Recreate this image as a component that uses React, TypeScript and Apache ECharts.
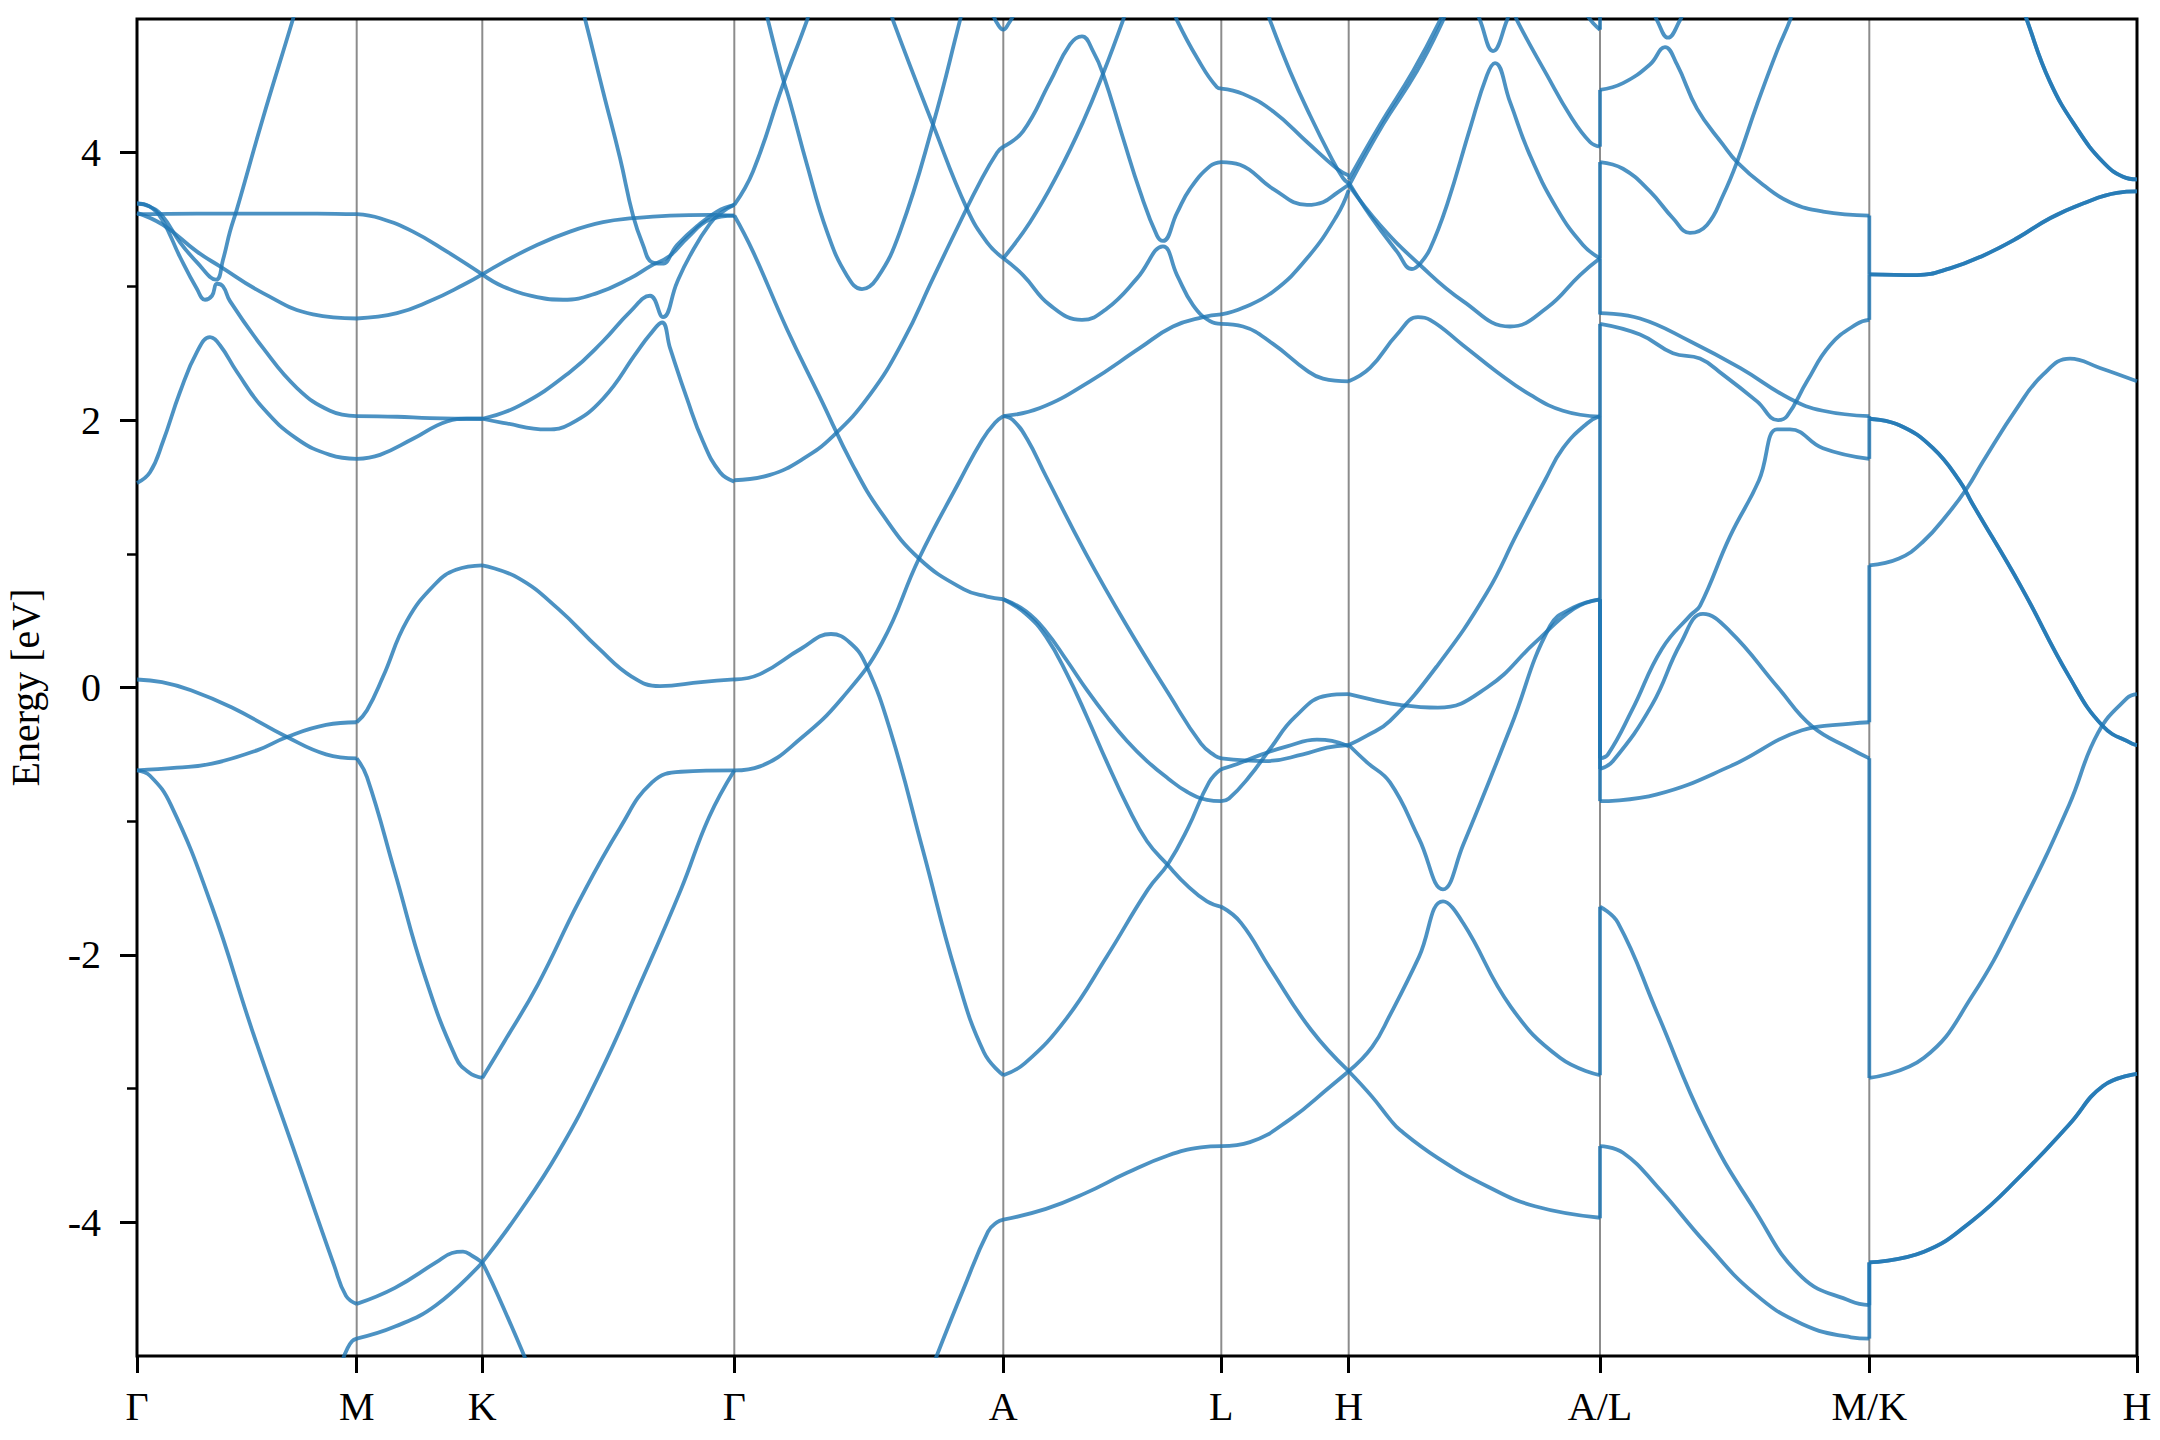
import React, { useEffect, useRef } from "react";
import * as echarts from "echarts";

type Pt = [number, number];

// high-symmetry path (k-distance units) and labels
const K_TICKS = [0, 219.7, 345.3, 597.3, 866.3, 1084.3, 1211.7, 1463, 1732.3, 2000];
const K_LABELS = ["Γ", "M", "K", "Γ", "A", "L", "H", "A/L", "M/K", "H"];
const Y_MAJOR = [-4, -2, 0, 2, 4];
const Y_MINOR = [-3, -1, 1, 3];

// Γ – M
const BANDS_GM: Pt[][] = [
  [[0, 3.54], [60, 3.545], [120, 3.545], [180, 3.545], [219.7, 3.54]],
  [[0, 3.62], [12, 3.6], [25, 3.53], [43, 3.33], [60, 3.18], [79, 3.05], [86, 3.2], [93, 3.41], [100, 3.58], [126, 4.26], [156, 5.0], [158, 5.06]],
  [[0, 3.62], [12, 3.6], [25, 3.5], [43, 3.22], [60, 2.98], [68, 2.9], [75, 2.93], [80, 3.02], [86, 3.0], [93, 2.89], [126, 2.54], [160, 2.24], [193, 2.07], [219.7, 2.03]],
  [[0, 3.55], [26, 3.46], [60, 3.26], [83, 3.15], [126, 2.95], [176, 2.79], [219.7, 2.76]],
  [[0, 1.53], [13, 1.61], [26, 1.84], [43, 2.21], [60, 2.51], [73, 2.62], [83, 2.56], [100, 2.36], [126, 2.09], [160, 1.86], [193, 1.74], [219.7, 1.71]],
  [[0, 0.06], [25, 0.04], [54, -0.02], [95, -0.15], [150, -0.37], [189, -0.5], [219.7, -0.53]],
  [[0, -0.62], [40, -0.6], [75, -0.57], [120, -0.47], [150, -0.37], [189, -0.28], [219.7, -0.26]],
  [[0, -0.62], [13, -0.66], [34, -0.88], [75, -1.64], [115, -2.56], [156, -3.44], [197, -4.32], [209, -4.55], [219.7, -4.61]],
  [[204, -5.06], [210, -4.95], [215, -4.89], [219.7, -4.87]],
];

// M – K
const BANDS_MK: Pt[][] = [
  [[219.7, 3.54], [243, 3.51], [276, 3.41], [310, 3.26], [345.3, 3.09]],
  [[219.7, 2.76], [260, 2.8], [293, 2.89], [326, 3.01], [345.3, 3.09]],
  [[219.7, 2.03], [260, 2.025], [293, 2.015], [345.3, 2.01]],
  [[219.7, 1.71], [243, 1.74], [276, 1.86], [310, 1.99], [330, 2.01], [345.3, 2.01]],
  [[219.7, -0.26], [230, -0.17], [246, 0.08], [270, 0.5], [299, 0.78], [319, 0.88], [345.3, 0.914]],
  [[219.7, -0.53], [230, -0.67], [258, -1.385], [287, -2.14], [319, -2.77], [332, -2.88], [345.3, -2.92]],
  [[219.7, -4.61], [258, -4.49], [299, -4.3], [315, -4.23], [326, -4.22], [335, -4.25], [345.3, -4.3]],
  [[219.7, -4.87], [258, -4.78], [299, -4.62], [345.3, -4.3]],
];

// K – Γ
const BANDS_KG: Pt[][] = [
  [[345.3, 3.09], [366, 3.18], [400, 3.31], [433, 3.41], [466, 3.48], [496, 3.51], [533, 3.53], [573, 3.535], [597.3, 3.53]],
  [[345.3, 3.09], [366, 3.0], [400, 2.92], [426, 2.9], [460, 2.95], [493, 3.06], [513, 3.15], [533, 3.23], [550, 3.36], [573, 3.5], [597.3, 3.53]],
  [[444, 5.1], [448, 5.0], [466, 4.46], [483, 3.96], [496, 3.53], [506, 3.31], [515, 3.18], [525, 3.17], [540, 3.31], [560, 3.45], [580, 3.56], [597.3, 3.61]],
  [[345.3, 2.01], [383, 2.11], [433, 2.36], [466, 2.59], [493, 2.81], [513, 2.93], [526, 2.77], [540, 3.03], [553, 3.23], [573, 3.47], [586, 3.56], [597.3, 3.61]],
  [[345.3, 2.01], [366, 1.98], [410, 1.93], [433, 1.97], [466, 2.16], [500, 2.51], [513, 2.64], [525, 2.73], [533, 2.54], [550, 2.16], [566, 1.84], [583, 1.61], [597.3, 1.54]],
  [[345.3, 0.914], [381, 0.82], [421, 0.59], [462, 0.29], [495, 0.08], [523, 0.01], [564, 0.04], [597.3, 0.06]],
  [[345.3, -2.92], [368, -2.64], [401, -2.22], [442, -1.6], [483, -1.05], [515, -0.71], [544, -0.63], [597.3, -0.62]],
  [[345.3, -4.3], [381, -3.94], [421, -3.48], [462, -2.9], [503, -2.22], [544, -1.51], [572, -0.97], [597.3, -0.62]],
  [[345.3, -4.3], [360, -4.53], [389, -5.03]],
];

// Γ – A
const BANDS_GA: Pt[][] = [
  [[597.3, 3.61], [616, 3.86], [646, 4.51], [670, 4.99], [672, 5.05]],
  [[628, 5.1], [631, 4.99], [645, 4.58], [653, 4.38], [670, 3.91], [690, 3.41], [710, 3.08], [725, 2.98], [740, 3.06], [763, 3.41], [796, 4.21], [823, 4.99], [826, 5.08]],
  [[754, 5.06], [756, 4.99], [796, 4.21], [830, 3.58], [850, 3.33], [866.3, 3.21]],
  [[597.3, 3.53], [616, 3.26], [650, 2.68], [683, 2.17], [716, 1.66], [745, 1.3], [782, 0.965], [827, 0.734], [850, 0.68], [866.3, 0.66]],
  [[597.3, 1.55], [633, 1.59], [666, 1.71], [696, 1.88], [733, 2.19], [766, 2.59], [796, 3.06], [823, 3.48], [843, 3.78], [860, 4.0], [866.3, 4.045]],
  [[855, 5.05], [860, 4.97], [866.3, 4.92], [872, 4.97], [878, 5.05]],
  [[597.3, -0.62], [623, -0.59], [664, -0.38], [705, -0.08], [745, 0.335], [782, 0.965], [823, 1.55], [845, 1.85], [858, 1.98], [866.3, 2.03]],
  [[597.3, 0.06], [623, 0.1], [664, 0.29], [694, 0.4], [713, 0.335], [729, 0.17], [754, -0.34], [786, -1.22], [819, -2.14], [847, -2.73], [866.3, -2.9]],
  [[797, -5.05], [827, -4.49], [851, -4.07], [860, -4.0], [866.3, -3.98]],
];

// A – L
const BANDS_AL: Pt[][] = [
  [[866.3, 4.045], [886, 4.16], [913, 4.53], [933, 4.81], [945, 4.87], [956, 4.76], [966, 4.59], [986, 4.11], [1003, 3.71], [1020, 3.38], [1026, 3.34], [1040, 3.55], [1053, 3.73], [1073, 3.9], [1084.3, 3.93]],
  [[866.3, 3.21], [893, 3.48], [920, 3.83], [946, 4.23], [966, 4.59], [986, 4.99], [988, 5.05]],
  [[866.3, 3.21], [886, 3.085], [913, 2.86], [945, 2.75], [970, 2.835], [1000, 3.06], [1026, 3.3], [1040, 3.085], [1056, 2.86], [1073, 2.74], [1084.3, 2.72]],
  [[866.3, 2.03], [903, 2.09], [953, 2.29], [1003, 2.54], [1036, 2.7], [1066, 2.77], [1084.3, 2.79]],
  [[1038, 5.05], [1040, 4.99], [1060, 4.71], [1080, 4.49], [1084.3, 4.48]],
  [[866.3, 0.66], [889, 0.57], [909, 0.42], [930, 0.2], [950, -0.02], [970, -0.22], [990, -0.4], [1010, -0.55], [1031, -0.68], [1050, -0.78], [1070, -0.84], [1084.3, -0.85]],
  [[866.3, 0.66], [889, 0.55], [909, 0.38], [930, 0.1], [950, -0.22], [970, -0.56], [990, -0.88], [1010, -1.15], [1031, -1.33], [1050, -1.48], [1070, -1.6], [1084.3, -1.64]],
  [[866.3, 2.03], [876, 2.0], [890, 1.86], [909, 1.58], [949, 1.0], [990, 0.46], [1031, -0.04], [1064, -0.42], [1078, -0.51], [1084.3, -0.53]],
  [[866.3, -2.9], [888, -2.81], [929, -2.48], [970, -2.01], [1011, -1.51], [1031, -1.32], [1051, -1.05], [1072, -0.71], [1084.3, -0.61]],
  [[866.3, -3.98], [909, -3.9], [949, -3.78], [990, -3.63], [1031, -3.5], [1064, -3.44], [1084.3, -3.43]],
];

// L – H
const BANDS_LH: Pt[][] = [
  [[1084.3, 4.48], [1106, 4.44], [1136, 4.31], [1170, 4.08], [1200, 3.88], [1211.7, 3.83]],
  [[1131, 5.05], [1133, 4.99], [1153, 4.61], [1173, 4.28], [1193, 3.98], [1206, 3.81], [1211.7, 3.77]],
  [[1084.3, 3.93], [1103, 3.91], [1136, 3.73], [1170, 3.61], [1186, 3.63], [1200, 3.7], [1211.7, 3.76]],
  [[1084.3, 2.79], [1106, 2.84], [1136, 2.96], [1170, 3.21], [1200, 3.53], [1211.7, 3.72]],
  [[1084.3, 2.72], [1106, 2.7], [1136, 2.57], [1170, 2.37], [1186, 2.31], [1211.7, 2.29]],
  [[1084.3, -0.53], [1129, -0.55], [1166, -0.5], [1190, -0.45], [1211.7, -0.43]],
  [[1084.3, -0.61], [1101, -0.57], [1125, -0.5], [1150, -0.44], [1180, -0.39], [1195, -0.4], [1211.7, -0.44]],
  [[1084.3, -0.85], [1092, -0.83], [1112, -0.67], [1133, -0.46], [1158, -0.22], [1190, -0.06], [1211.7, -0.05]],
  [[1084.3, -1.64], [1104, -1.76], [1133, -2.1], [1174, -2.56], [1211.7, -2.87]],
  [[1084.3, -3.43], [1113, -3.4], [1153, -3.23], [1194, -2.98], [1211.7, -2.87]],
];

// H – A
const BANDS_HA: Pt[][] = [
  [[1211.7, 3.8], [1243, 4.21], [1276, 4.61], [1303, 4.99], [1305, 5.05]],
  [[1211.7, 3.75], [1246, 4.21], [1280, 4.61], [1306, 4.99], [1308, 5.05]],
  [[1211.7, 3.78], [1233, 3.53], [1260, 3.26], [1275, 3.13], [1283, 3.17], [1293, 3.28], [1310, 3.61], [1333, 4.18], [1350, 4.58], [1358, 4.67], [1373, 4.38], [1393, 3.98], [1420, 3.58], [1446, 3.31], [1463, 3.21]],
  [[1211.7, 3.76], [1243, 3.46], [1283, 3.16], [1326, 2.89], [1373, 2.7], [1410, 2.84], [1443, 3.085], [1463, 3.21]],
  [[1340, 5.05], [1343, 4.99], [1356, 4.76], [1370, 4.99], [1372, 5.05]],
  [[1378, 5.05], [1380, 4.99], [1410, 4.58], [1433, 4.28], [1453, 4.08], [1463, 4.045]],
  [[1450, 5.03], [1456, 4.97], [1463, 4.92]],
  [[1211.7, 2.29], [1233, 2.39], [1260, 2.64], [1281, 2.77], [1293, 2.75], [1326, 2.56], [1360, 2.36], [1393, 2.19], [1426, 2.07], [1463, 2.025]],
  [[1211.7, -0.43], [1230, -0.36], [1253, -0.25], [1301, 0.17], [1350, 0.71], [1380, 1.15], [1408, 1.55], [1426, 1.79], [1450, 1.975], [1463, 2.03]],
  [[1211.7, -0.05], [1235, -0.09], [1263, -0.13], [1301, -0.15], [1350, 0.0], [1398, 0.335], [1437, 0.59], [1463, 0.66]],
  [[1211.7, -0.43], [1230, -0.56], [1253, -0.71], [1282, -1.13], [1306, -1.51], [1326, -1.18], [1374, -0.29], [1413, 0.46], [1437, 0.6], [1463, 0.66]],
  [[1211.7, -2.87], [1235, -2.69], [1253, -2.45], [1282, -2.015], [1306, -1.6], [1326, -1.76], [1374, -2.39], [1423, -2.77], [1463, -2.9]],
  [[1211.7, -2.87], [1235, -3.06], [1253, -3.23], [1263, -3.31], [1301, -3.52], [1350, -3.73], [1398, -3.88], [1463, -3.966]],
];

// L – M (after the A|L break)
const BANDS_LM: Pt[][] = [
  [[1463, 4.47], [1486, 4.52], [1513, 4.66], [1528, 4.79], [1540, 4.66], [1560, 4.33], [1586, 4.06], [1600, 3.93], [1626, 3.76], [1653, 3.63], [1686, 3.56], [1732.3, 3.53]],
  [[1517, 5.05], [1520, 4.99], [1531, 4.86], [1543, 4.99], [1546, 5.05]],
  [[1463, 3.93], [1486, 3.88], [1513, 3.71], [1536, 3.51], [1553, 3.4], [1570, 3.46], [1586, 3.68], [1600, 3.93], [1620, 4.36], [1640, 4.76], [1653, 4.99], [1655, 5.05]],
  [[1463, 2.8], [1503, 2.76], [1553, 2.59], [1603, 2.39], [1653, 2.16], [1686, 2.07], [1732.3, 2.03]],
  [[1463, 2.72], [1503, 2.64], [1536, 2.5], [1563, 2.46], [1586, 2.34], [1620, 2.14], [1641, 2.0], [1650, 2.03], [1670, 2.29], [1693, 2.56], [1720, 2.72], [1732.3, 2.75]],
  [[1463, -0.53], [1471, -0.5], [1495, -0.17], [1525, 0.29], [1554, 0.545], [1563, 0.61], [1593, 1.13], [1622, 1.55], [1640, 1.93], [1653, 1.93], [1686, 1.79], [1732.3, 1.71]],
  [[1463, -0.61], [1476, -0.55], [1515, -0.13], [1544, 0.335], [1566, 0.55], [1593, 0.42], [1641, 0.0], [1675, -0.29], [1714, -0.46], [1732.3, -0.53]],
  [[1463, -0.85], [1520, -0.8], [1593, -0.59], [1665, -0.32], [1714, -0.27], [1732.3, -0.26]],
  [[1463, -1.64], [1481, -1.76], [1520, -2.43], [1568, -3.27], [1617, -3.9], [1665, -4.41], [1714, -4.59], [1732.3, -4.62]],
  [[1463, -3.43], [1486, -3.48], [1520, -3.73], [1568, -4.15], [1617, -4.53], [1665, -4.76], [1714, -4.86], [1732.3, -4.87]],
];

// K – H (after the M|K break)
const BANDS_KH: Pt[][] = [
  [[1732.3, 3.09], [1780, 3.085], [1813, 3.135], [1846, 3.23], [1880, 3.36], [1913, 3.51], [1946, 3.62], [1980, 3.7], [2000, 3.71]],
  [[1888, 5.05], [1890, 4.99], [1913, 4.53], [1940, 4.18], [1966, 3.93], [1986, 3.82], [2000, 3.8]],
  [[1732.3, 2.01], [1763, 1.96], [1796, 1.79], [1823, 1.54], [1835, 1.38], [1884, 0.755], [1932, 0.083], [1966, -0.29], [1995, -0.42], [2000, -0.43]],
  [[1732.3, 0.914], [1762, 0.965], [1786, 1.09], [1811, 1.3], [1830, 1.49], [1846, 1.69], [1880, 2.09], [1906, 2.34], [1933, 2.46], [1963, 2.39], [2000, 2.29]],
  [[1732.3, -2.92], [1787, -2.77], [1835, -2.31], [1884, -1.64], [1932, -0.88], [1961, -0.34], [1990, -0.08], [2000, -0.05]],
  [[1732.3, -4.3], [1787, -4.22], [1835, -3.99], [1884, -3.65], [1932, -3.27], [1966, -2.98], [2000, -2.89]],
];
const DOUBLE_KH = [0, 1, 2, 5];

// vertical jumps at the path breaks: [energy before, energy after]
const JUMP_AL: Pt[] = [[-3.97, -3.43], [-2.9, -1.64], [0.66, -0.85], [0.66, -0.61], [2.03, -0.53], [2.03, 2.72], [3.21, 2.79], [3.21, 3.93], [4.045, 4.47], [4.92, 5.3]];
const JUMP_MK: Pt[] = [[-4.87, -4.3], [-4.62, -4.3], [-0.53, -2.92], [-0.26, 0.914], [1.71, 2.01], [2.03, 2.01], [2.75, 3.09], [3.53, 3.09]];

const BAND_COLOR = "rgba(31,119,180,0.8)";
const BAND_WIDTH = 3.8;
const FONT = "Liberation Serif";

export default function App() {
  const ref = useRef<HTMLDivElement>(null);
  useEffect(() => {
    if (!ref.current) return;
    const chart = echarts.init(ref.current, undefined, { renderer: "svg" });
    const series: any[] = [];
    K_TICKS.slice(1, -1).forEach((k) => {
      series.push({
        type: "line",
        data: [[k, -5], [k, 5]],
        showSymbol: false,
        silent: true,
        z: 1,
        lineStyle: { color: "rgba(0,0,0,0.45)", width: 2 },
      });
    });
    const bandSeries = (curve: Pt[]) => ({
      type: "line",
      data: curve,
      showSymbol: false,
      silent: true,
      smooth: 0.45,
      z: 3,
      lineStyle: { color: BAND_COLOR, width: BAND_WIDTH, join: "round", cap: "butt" },
    });
    const groups = [BANDS_GM, BANDS_MK, BANDS_KG, BANDS_GA, BANDS_AL, BANDS_LH, BANDS_HA, BANDS_LM, BANDS_KH];
    groups.forEach((g) => g.forEach((curve) => series.push(bandSeries(curve))));
    // degenerate bands in K–H drawn twice (darker)
    DOUBLE_KH.forEach((i) => series.push(bandSeries(BANDS_KH[i])));
    const addJumps = (k: number, jumps: Pt[]) =>
      jumps.forEach(([a, b]) =>
        series.push({
          type: "line",
          data: [[k, a], [k, b]],
          showSymbol: false,
          silent: true,
          z: 3,
          lineStyle: { color: BAND_COLOR, width: BAND_WIDTH },
        })
      );
    addJumps(K_TICKS[7], JUMP_AL);
    addJumps(K_TICKS[8], JUMP_MK);

    const labelFor = (v: number) => {
      let best = 0;
      K_TICKS.forEach((t, i) => {
        if (Math.abs(t - v) < Math.abs(K_TICKS[best] - v)) best = i;
      });
      return K_LABELS[best];
    };

    chart.setOption({
      animation: false,
      backgroundColor: "#fff",
      grid: {
        left: 137,
        right: 23,
        top: 19,
        bottom: 84,
        show: true,
        borderColor: "#000",
        borderWidth: 3,
        backgroundColor: "transparent",
        containLabel: false,
        outerBoundsMode: "none",
      },
      xAxis: {
        type: "value",
        min: 0,
        max: 2000,
        position: "bottom",
        splitLine: { show: false },
        axisLine: { show: false, onZero: false },
        axisTick: { show: true, customValues: K_TICKS, length: 17, lineStyle: { color: "#000", width: 3 } },
        axisLabel: {
          customValues: K_TICKS,
          formatter: (v: number) => labelFor(v),
          fontFamily: FONT,
          fontSize: 40,
          color: "#000",
          margin: 30,
          showMinLabel: true,
          showMaxLabel: true,
        },
      },
      yAxis: [
        {
          type: "value",
          min: -5,
          max: 5,
          position: "left",
          splitLine: { show: false },
          axisLine: { show: false, onZero: false },
          axisTick: { show: true, customValues: Y_MAJOR, length: 17, lineStyle: { color: "#000", width: 3 } },
          axisLabel: {
            customValues: Y_MAJOR,
            formatter: (v: number) => String(v),
            fontFamily: FONT,
            fontSize: 40,
            color: "#000",
            margin: 36,
          },
          name: "Energy [eV]",
          nameLocation: "middle",
          nameGap: 92,
          nameTextStyle: { fontFamily: FONT, fontSize: 40, color: "#000" },
        },
        {
          type: "value",
          min: -5,
          max: 5,
          position: "left",
          splitLine: { show: false },
          axisLine: { show: false, onZero: false },
          axisTick: { show: true, customValues: Y_MINOR, length: 10, lineStyle: { color: "#000", width: 2.5 } },
          axisLabel: { show: false },
        },
      ],
      series,
    });
    return () => chart.dispose();
  }, []);
  return (
    <div
      ref={ref}
      style={{ position: "fixed", left: 0, top: 0, width: 2160, height: 1440, background: "#fff" }}
    />
  );
}
